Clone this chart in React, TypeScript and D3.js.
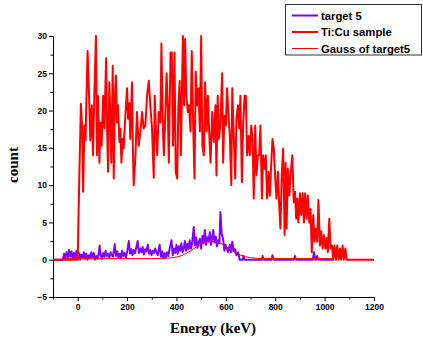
import React, { useEffect, useRef } from 'react';
import * as d3 from 'd3';

// Ti:Cu sample spectrum (keV, counts)
const tiCuEnergy = [
  -100, -5, 0, 5, 13, 18, 22, 27, 32, 35, 40, 47, 51, 57, 62, 68, 74, 78, 82, 88,
  92, 97, 103, 108, 115, 119, 123, 128, 132, 136, 142, 146, 151, 155, 159, 163, 169, 173, 177, 182,
  186, 193, 200, 204, 209, 213, 220, 224, 227, 234, 240, 247, 254, 261, 267, 274, 281, 288, 295, 301,
  308, 312, 318, 322, 328, 335, 339, 345, 349, 353, 360, 365, 369, 376, 381, 386, 392, 397, 403, 408,
  413, 418, 422, 426, 431, 435, 440, 446, 451, 457, 462, 468, 473, 478, 484, 489, 495, 500, 505, 511,
  516, 522, 527, 532, 538, 545, 551, 558, 562, 567, 572, 578, 585, 589, 594, 600, 605, 611, 616, 622,
  626, 632, 638, 643, 649, 654, 659, 665, 670, 676, 681, 686, 692, 697, 703, 708, 713, 719, 724, 730,
  735, 740, 746, 751, 757, 762, 767, 773, 778, 784, 789, 794, 800, 805, 811, 816, 821, 827, 832, 838,
  842, 846, 851, 857, 862, 869, 875, 880, 885, 889, 894, 900, 905, 911, 916, 921, 927, 932, 938, 943,
  948, 954, 959, 965, 970, 975, 981, 986, 992, 997, 1003, 1008, 1013, 1019, 1024, 1030, 1035, 1040, 1046, 1051,
  1057, 1062, 1067, 1073, 1078, 1084, 1089, 1200,
];
const tiCuCount = [
  0, 0, 0, 8.6, 20.9, 17.6, 9.1, 18, 16, 21, 28, 21, 16, 20.7, 14, 23, 30, 14, 22, 13,
  18.4, 15.3, 22, 17.6, 27, 17.6, 11.8, 23.8, 19.8, 13, 26, 10.9, 22, 24.7, 18.4, 20.7, 15.8, 17.6, 13, 16.2,
  14.9, 19.3, 23, 18.9, 21, 16.2, 23.8, 14, 10, 14, 19.8, 15.3, 17.2, 19.8, 17.6, 18, 22, 24, 20.3, 17.6,
  11, 22, 16.2, 14, 19.8, 18.4, 29, 17.6, 14, 17.6, 25, 20.3, 13, 27.8, 27.8, 15.3, 27.8, 11.8, 10.9, 20.7,
  24, 14, 22, 30, 20.7, 29.6, 22, 19.8, 20.7, 17.2, 28, 17.6, 10.9, 25.2, 20.7, 23, 17.2, 30, 15.3, 14,
  23.8, 17.2, 22, 17.6, 13, 19.8, 15.8, 20.7, 11.3, 22, 16.2, 18.4, 25, 13, 19.3, 18, 23, 19.3, 16.6, 10,
  23, 16.6, 10.9, 18.9, 20.7, 17.6, 22, 10.4, 18, 22, 22, 14, 16.6, 14, 18, 16.2, 8.2, 18, 11.3, 14,
  14, 18, 8.2, 14, 12.2, 14, 8.2, 11.8, 8.6, 13, 16.2, 14.9, 10.9, 8.2, 11.8, 7.3, 4.2, 11.8, 14.9, 3.3,
  13, 4.2, 12.2, 8.6, 11.3, 14, 7.7, 9.1, 5.5, 8.2, 5, 8.9, 6, 8.9, 5, 8.9, 5.5, 8.6, 5, 6.8,
  1, 6, 2.4, 4.2, 2.4, 8, 1.9, 3.8, 1.5, 3.3, 1.5, 2.9, 1, 5.5, 1.5, 1.9, 0, 1.9, 0, 1.9,
  0, 1.5, 0, 1.9, 0, 1.5, 0, 0,
];

// target 5 spectrum
const target5Energy = [
  -100, -60, -55, -50, -45, -40, -35, -30, -25, -20, -15, -10, -5, 0, 5, 10, 15, 20, 25, 30,
  35, 40, 45, 50, 55, 60, 65, 70, 75, 80, 85, 89, 93, 98, 103, 108, 113, 118, 123, 128,
  133, 138, 143, 150, 155, 160, 165, 170, 175, 180, 185, 190, 195, 200, 207, 212, 217, 222, 227, 232,
  237, 243, 248, 253, 258, 263, 268, 273, 278, 284, 289, 294, 299, 304, 309, 314, 319, 324, 332, 337,
  342, 347, 352, 357, 362, 367, 372, 380, 385, 390, 395, 400, 405, 410, 415, 420, 425, 430, 434, 439,
  444, 449, 454, 459, 464, 470, 475, 480, 485, 490, 495, 500, 505, 510, 515, 520, 525, 530, 535, 540,
  545, 549, 554, 559, 564, 569, 574, 578, 583, 589, 594, 599, 604, 610, 616, 621, 626, 632, 638, 643,
  650, 656, 668, 672, 676, 745, 749, 753, 785, 789, 793, 876, 880, 884, 952, 957, 962, 966, 970, 974,
  1035,
];
const target5Count = [
  0, 0, 0.8, 0.2, 1.0, 0.3, 1.3, 0.4, 1.1, 0.2, 0.9, 0.1, 1.2, 0.3, 0.9, 0, 0.7, 0.2, 1.0, 0.1,
  0.8, 0, 0.6, 0.2, 1.0, 0.3, 0.9, 0, 0.5, 0.1, 0.8, 1.9, 0.6, 0.1, 0.9, 0.4, 1.2, 0.5, 0.8, 0.3,
  1.0, 0.6, 0.4, 2.1, 0.5, 1.1, 0.3, 0.8, 0.2, 1.2, 0.5, 0.9, 0.3, 1.0, 2.5, 0.8, 1.4, 0.6, 1.3, 0.9,
  1.6, 2.5, 0.9, 1.5, 1.0, 1.7, 0.7, 1.4, 1.1, 2.0, 0.8, 1.3, 0.6, 1.2, 0.9, 1.5, 1.0, 0.6, 2.0, 0.4,
  1.1, 0.2, 0.9, 0.3, 1.0, 0.5, 1.4, 2.6, 0.6, 1.5, 0.9, 2.0, 0.8, 1.8, 1.2, 2.2, 1.0, 1.6, 2.5, 1.2,
  2.1, 1.4, 2.6, 1.5, 2.3, 4.4, 1.9, 3.0, 1.6, 2.4, 2.8, 1.5, 3.2, 2.2, 4.0, 2.0, 3.0, 2.4, 3.7, 2.0,
  2.9, 4.0, 2.3, 3.1, 1.8, 2.6, 2.2, 6.4, 3.5, 2.8, 1.2, 2.0, 1.5, 1.0, 2.0, 1.0, 2.4, 1.2, 1.4, 0.6,
  1.0, 0, 0, 0.5, 0, 0, 0.5, 0, 0, 0.6, 0, 0, 0.5, 0, 0, 1.0, 0, 0, 0.5, 0,
  0,
];

// Gaussian fit of target 5, sampled off the curve
const gaussEnergy = [-60, 300, 340, 380, 400, 420, 440, 460, 480, 500, 520, 540, 560, 580, 600, 620, 640, 660, 680, 700, 720, 760, 800, 1030];
const gaussCount = [0.15, 0.15, 0.17, 0.25, 0.35, 0.55, 0.85, 1.25, 1.7, 2.1, 2.4, 2.5, 2.45, 2.2, 1.8, 1.35, 0.9, 0.6, 0.4, 0.28, 0.2, 0.16, 0.15, 0.15];

const xTicks = [0, 200, 400, 600, 800, 1000, 1200];
const xMinor = [-100, 100, 300, 500, 700, 900, 1100];
const yTicks = [-5, 0, 5, 10, 15, 20, 25, 30];
const yMinor = [-2.5, 2.5, 7.5, 12.5, 17.5, 22.5, 27.5];

const seriesNames = ['target 5', 'Ti:Cu sample', 'Gauss of target5'];
const seriesColors = ['#7f00ff', '#ff0000', '#ff0000'];
const seriesWidths = [2, 2, 1];

const W = 423;
const H = 340;
const sansBold = "'Liberation Sans', Arial, sans-serif";
const serif = "'Liberation Serif', 'Times New Roman', serif";

export default function App() {
  const svgRef = useRef<SVGSVGElement>(null);

  useEffect(() => {
    if (!svgRef.current) return;
    const svg = d3.select(svgRef.current);
    svg.selectAll('*').remove();

    const x = d3.scaleLinear().domain([-100, 1200]).range([53, 374]);
    const y = d3.scaleLinear().domain([-5, 30]).range([297, 36]);

    // --- axes ---
    const styleAxis = (g: d3.Selection<SVGGElement, unknown, null, undefined>) => {
      g.attr('color', '#000');
      g.selectAll('.domain').attr('stroke-width', 1);
      g.selectAll('text')
        .attr('font-family', sansBold)
        .attr('font-weight', 'bold')
        .attr('font-size', 8.5);
    };

    svg.append('g')
      .attr('transform', 'translate(0,297)')
      .call(d3.axisBottom(x).tickValues(xMinor).tickSize(2.5).tickSizeOuter(0).tickFormat(() => ''))
      .call(styleAxis);
    svg.append('g')
      .attr('transform', 'translate(0,297)')
      .call(d3.axisBottom(x).tickValues(xTicks).tickSize(4).tickSizeOuter(0).tickPadding(2.5).tickFormat(d3.format('d')))
      .call(styleAxis);

    svg.append('g')
      .attr('transform', 'translate(53,0)')
      .call(d3.axisLeft(y).tickValues(yMinor).tickSize(2.5).tickSizeOuter(0).tickFormat(() => ''))
      .call(styleAxis);
    svg.append('g')
      .attr('transform', 'translate(53,0)')
      .call(d3.axisLeft(y).tickValues(yTicks).tickSize(4).tickSizeOuter(0).tickPadding(2).tickFormat(d3.format('d')))
      .call(styleAxis);

    // --- series ---
    const plot = svg.append('g');
    const line = d3.line<[number, number]>().x(d => x(d[0])).y(d => y(d[1]));

    const target5 = target5Energy.map((e, i) => [e, target5Count[i]] as [number, number]);
    const tiCu = tiCuEnergy.map((e, i) => [e, tiCuCount[i]] as [number, number]);
    const gauss = gaussEnergy.map((e, i) => [e, gaussCount[i]] as [number, number]);

    plot.append('path')
      .attr('d', line(target5))
      .attr('fill', 'none')
      .attr('stroke', seriesColors[0])
      .attr('stroke-width', seriesWidths[0])
      .attr('stroke-linejoin', 'round');

    plot.append('path')
      .attr('d', line(tiCu))
      .attr('fill', 'none')
      .attr('stroke', seriesColors[1])
      .attr('stroke-width', seriesWidths[1])
      .attr('stroke-linejoin', 'round');

    plot.append('path')
      .attr('d', line.curve(d3.curveMonotoneX)(gauss))
      .attr('fill', 'none')
      .attr('stroke', seriesColors[2])
      .attr('stroke-width', seriesWidths[2]);

    // --- axis titles ---
    svg.append('text')
      .attr('x', 213).attr('y', 333)
      .attr('text-anchor', 'middle')
      .attr('font-family', serif).attr('font-weight', 'bold').attr('font-size', 15)
      .text('Energy (keV)');

    svg.append('text')
      .attr('transform', 'translate(18,165) rotate(-90)')
      .attr('text-anchor', 'middle')
      .attr('font-family', serif).attr('font-weight', 'bold').attr('font-size', 15)
      .text('count');

    // --- legend ---
    const legend = svg.append('g');
    legend.append('rect')
      .attr('x', 285.5).attr('y', 4.5).attr('width', 136).attr('height', 50.5)
      .attr('fill', '#fff').attr('stroke', '#333').attr('stroke-width', 1);

    seriesNames.forEach((name, i) => {
      const cy = 15.5 + i * 16.5;
      legend.append('line')
        .attr('x1', 292).attr('x2', 318).attr('y1', cy).attr('y2', cy)
        .attr('stroke', seriesColors[i]).attr('stroke-width', seriesWidths[i]);
      legend.append('text')
        .attr('x', 321).attr('y', cy + 4)
        .attr('font-family', sansBold).attr('font-weight', 'bold').attr('font-size', 11.3)
        .text(name);
    });
  }, []);

  return (
    <svg
      ref={svgRef}
      width={W}
      height={H}
      style={{ position: 'absolute', left: 0, top: 0, background: '#fff' }}
    />
  );
}
